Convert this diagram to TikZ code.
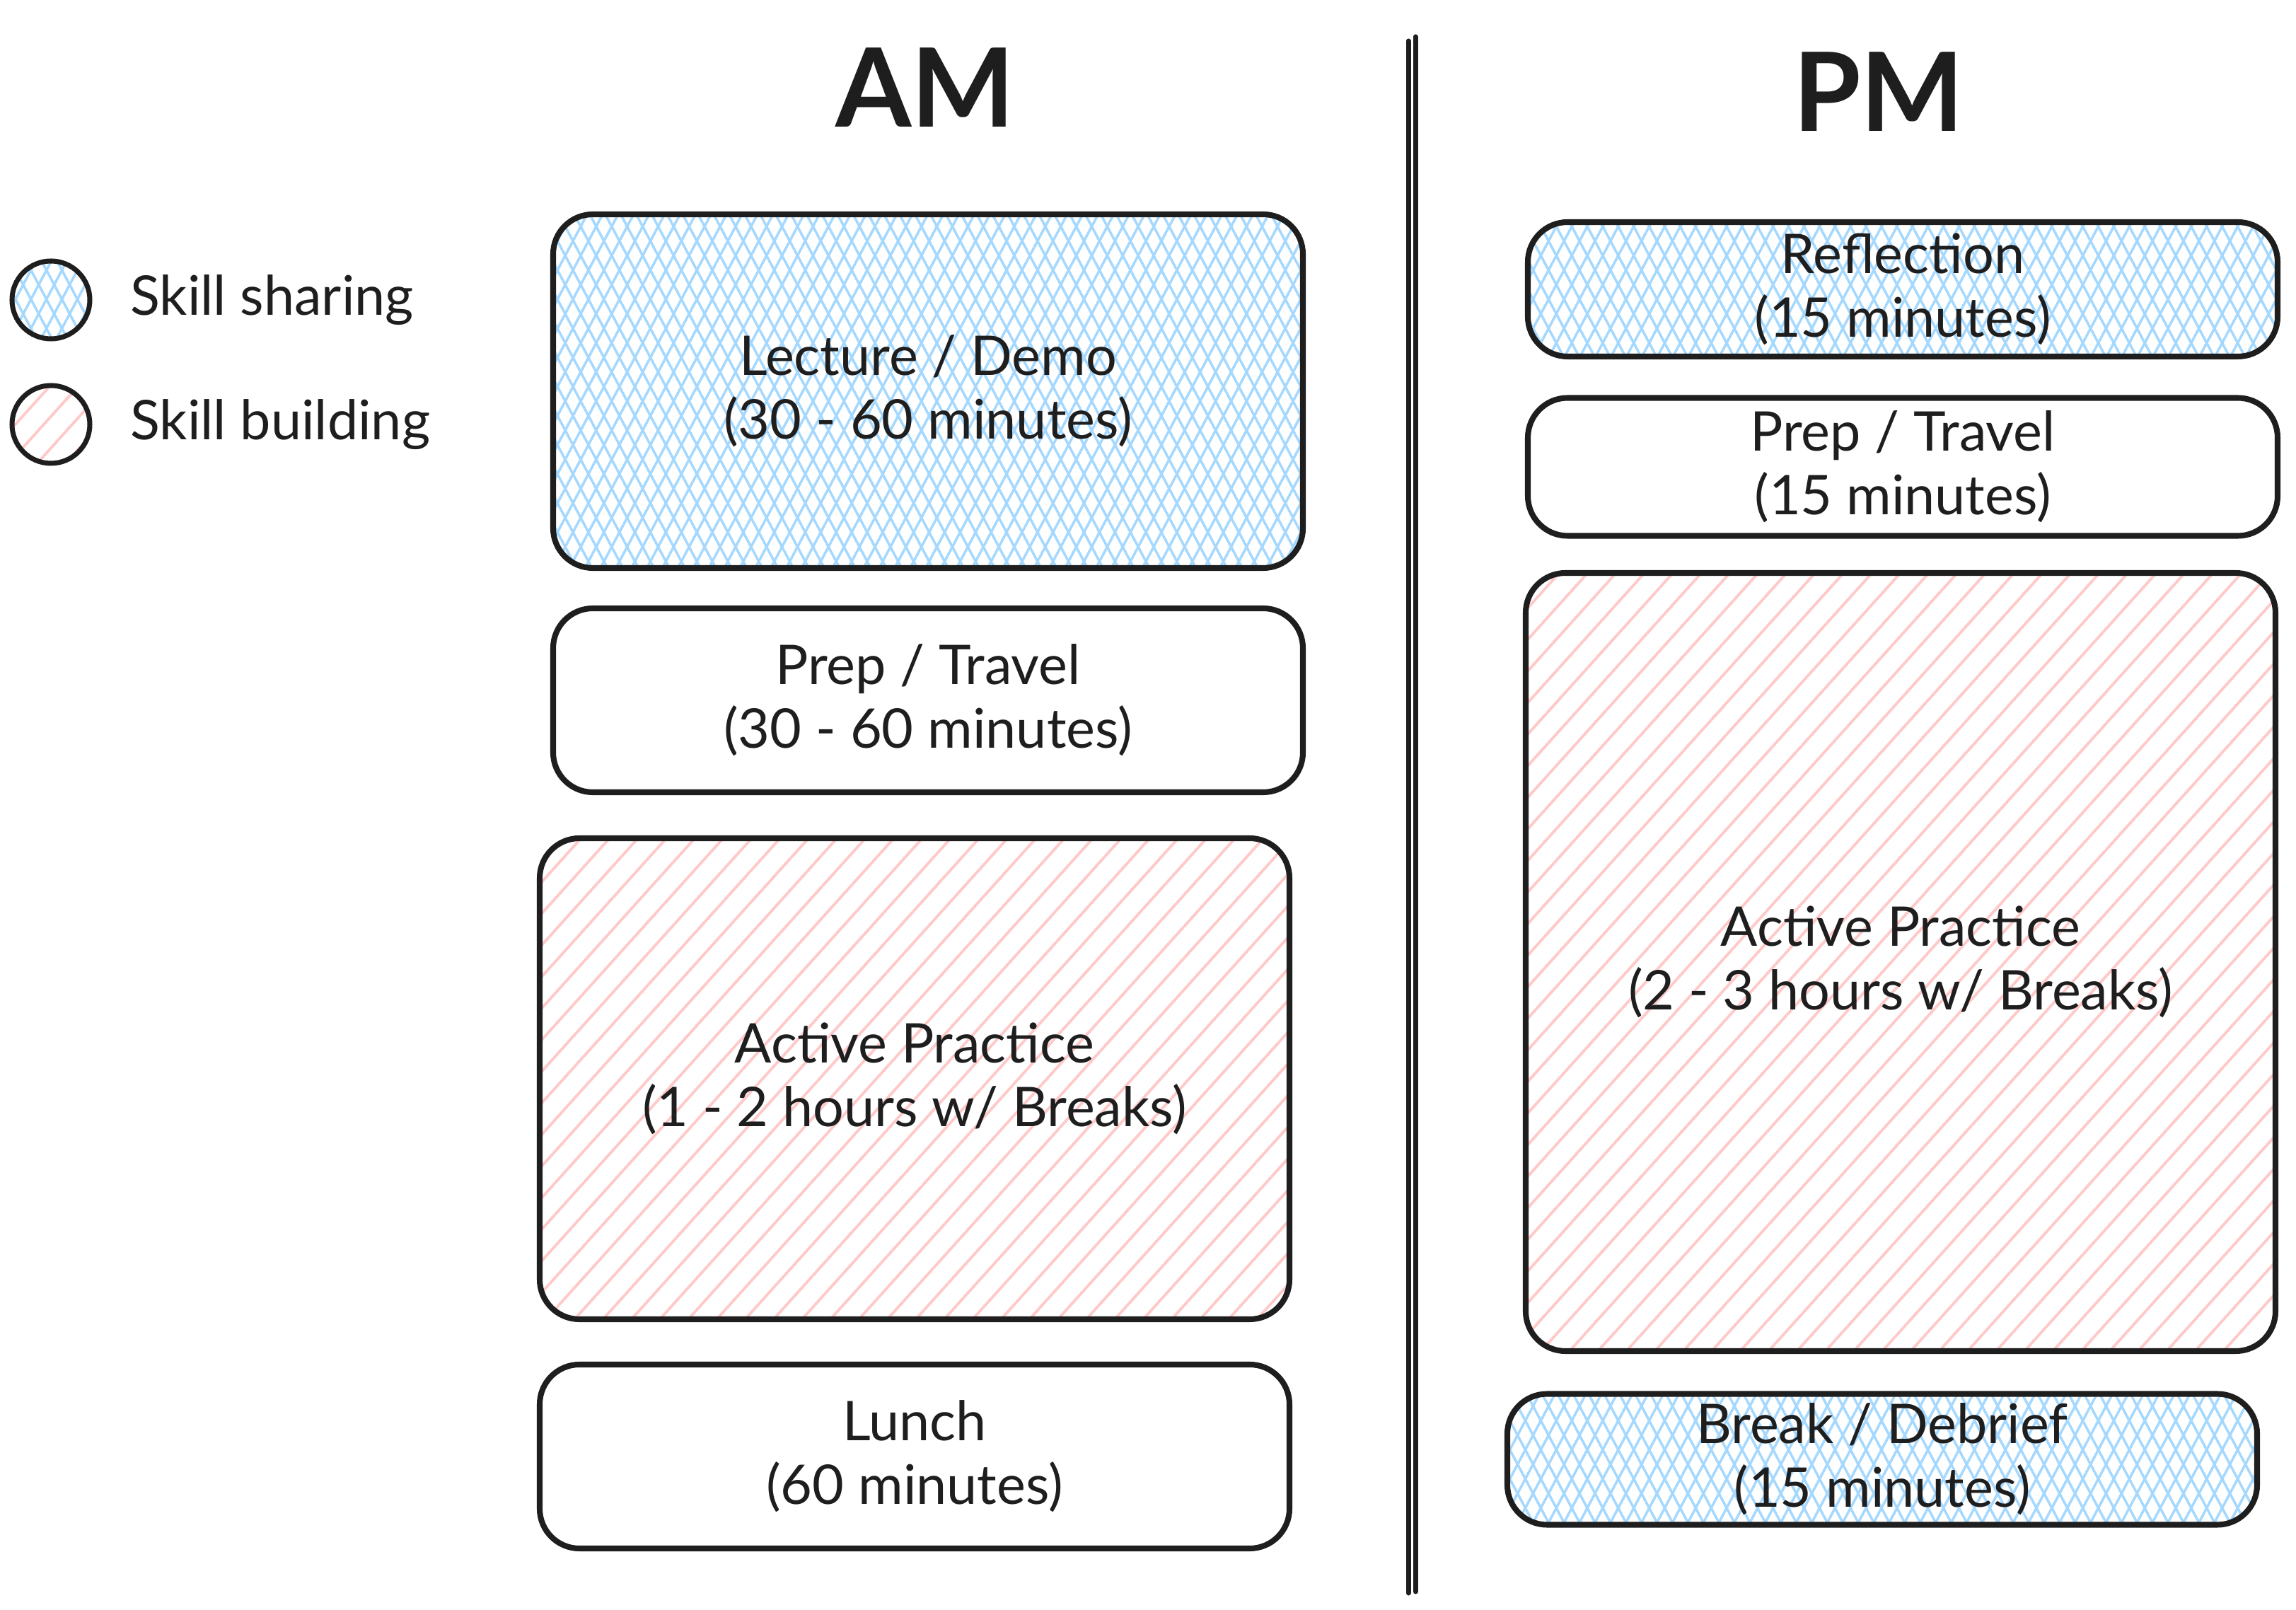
\documentclass[tikz,border=0pt]{standalone}
\usepackage{fontspec}
\setmainfont{Lato}
\usetikzlibrary{patterns.meta}
\definecolor{cInk}{HTML}{1E1E1E}
\definecolor{shareBlue}{HTML}{A5D8FF}
\definecolor{buildRed}{HTML}{FFC9C9}

\begin{document}
\begin{tikzpicture}[x=1cm, y=-1cm,
    slot/.style={rectangle, draw=cInk, line width=2.3pt, rounded corners=16pt, align=center, text=cInk, font=\fontsize{22}{25.5}\selectfont},
    sharefill/.style={pattern={Lines[angle=62, distance=5.5pt, line width=1pt]}, pattern color=shareBlue,
        preaction={pattern={Lines[angle=-62, distance=5.5pt, line width=1pt]}, pattern color=shareBlue}},
    buildfill/.style={pattern={Lines[angle=48, distance=8.5pt, line width=1.1pt]}, pattern color=buildRed},
    sharebox/.style={slot, sharefill},
    buildbox/.style={slot, buildfill},
    plainbox/.style={slot, fill=white},
    legenddot/.style={circle, draw=cInk, line width=2pt, minimum size=1.1cm, inner sep=0pt},
    labelstyle/.style={anchor=west, text=cInk, font=\fontsize{22}{25.5}\selectfont},
    titlestyle/.style={text=cInk, font=\fontsize{44}{52}\selectfont\bfseries}
]
\useasboundingbox (0,0) rectangle (32.46,22.76);

% Legend
\node[legenddot, sharefill] (dotShare) at (0.72, 4.24) {};
\node[labelstyle] (txtShare) at (1.72, 4.24) {Skill sharing};
\node[legenddot, buildfill] (dotBuild) at (0.72, 6.00) {};
\node[labelstyle] (txtBuild) at (1.72, 6.00) {Skill building};

% Titles
\node[titlestyle] (am) at (13.08, 1.24) {AM};
\node[titlestyle] (pm) at (26.56, 1.30) {PM};

% Divider (double line)
\draw[cInk, line width=2pt, line cap=round] (19.91, 0.58) -- (19.91, 22.52);
\draw[cInk, line width=2pt, line cap=round] (20.01, 0.52) -- (20.01, 22.50);

% Morning column
\node[sharebox, minimum width=10.6cm, minimum height=5.0cm] (lecAM) at (13.12, 5.53) {Lecture / Demo\\(30 - 60 minutes)};
\node[plainbox, minimum width=10.6cm, minimum height=2.6cm] (prepAM) at (13.12, 9.90) {Prep / Travel\\(30 - 60 minutes)};
\node[buildbox, minimum width=10.6cm, minimum height=6.8cm] (practAM) at (12.93, 15.25) {Active Practice\\(1 - 2 hours w/ Breaks)};
\node[plainbox, minimum width=10.6cm, minimum height=2.6cm] (lunchAM) at (12.93, 20.59) {Lunch\\(60 minutes)};

% Afternoon column
\node[sharebox, minimum width=10.6cm, minimum height=1.9cm] (reflPM) at (26.90, 4.09) {Reflection\\(15 minutes)};
\node[plainbox, minimum width=10.6cm, minimum height=1.95cm] (prepPM) at (26.90, 6.60) {Prep / Travel\\(15 minutes)};
\node[buildbox, minimum width=10.6cm, minimum height=11.0cm] (practPM) at (26.87, 13.60) {Active Practice\\(2 - 3 hours w/ Breaks)};
\node[sharebox, minimum width=10.6cm, minimum height=1.85cm] (breakPM) at (26.61, 20.63) {Break / Debrief\\(15 minutes)};

\end{tikzpicture}
\end{document}
